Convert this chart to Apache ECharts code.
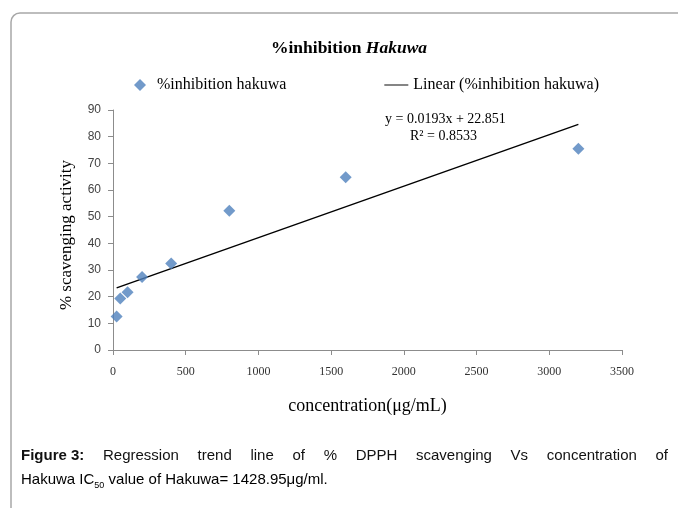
<!DOCTYPE html>
<html>
<head>
<meta charset="utf-8">
<script src="https://cdn.jsdelivr.net/npm/echarts@6/dist/echarts.min.js"></script>
<style>
html,body{margin:0;padding:0;background:#fff;}
#main{width:678px;height:508px;}
</style>
</head>
<body>
<div id="main"></div>
<script>
// Data
const concentration = [25, 50, 100, 200, 400, 800, 1600, 3200];
const inhibition = [12.6, 19.3, 21.7, 27.4, 32.4, 52.2, 64.8, 75.5];
// Trendline endpoints (y = 0.0193x + 22.851 at min and max x)
const trendX = [25, 3200];
const trendY = [23.3, 84.6];
const xTicks = [0, 500, 1000, 1500, 2000, 2500, 3000, 3500];
const yTicks = [0, 10, 20, 30, 40, 50, 60, 70, 80, 90];
const equationText = 'y = 0.0193x + 22.851';
const r2Text = 'R² = 0.8533';
const captionBold = 'Figure 3:';
const captionLine1 = 'Regression trend line of % DPPH scavenging Vs concentration of';
const captionLine2a = 'Hakuwa IC';
const captionSub = '50';
const captionLine2b = ' value of Hakuwa= 1428.95μg/ml.';

const serif = '"Liberation Serif", "Times New Roman", serif';
const sans = '"Liberation Sans", Arial, sans-serif';

// justified first caption line: place words individually
const capSize = 15;
const capLeft = 21, capRight = 668, capTop1 = 448, capTop2 = 470;
const mctx = document.createElement('canvas').getContext('2d');
const words = [{t: captionBold, bold: true}].concat(captionLine1.split(' ').map(t => ({t, bold: false})));
let total = 0;
words.forEach(w => {
  mctx.font = (w.bold ? 'bold ' : '') + capSize + 'px ' + sans;
  w.w = mctx.measureText(w.t).width; total += w.w;
});
const gap = (capRight - capLeft - total) / (words.length - 1);
const capGraphics = [];
let cx = capLeft;
words.forEach(w => {
  capGraphics.push({type: 'text', x: cx, y: capTop1,
    style: {text: w.t, font: (w.bold ? 'bold ' : '') + capSize + 'px ' + sans, fill: '#111'}});
  cx += w.w + gap;
});
capGraphics.push({type: 'text', x: capLeft, y: capTop2,
  style: {
    text: '{n|' + captionLine2a + '}{s|' + captionSub + '}{n|' + captionLine2b + '}',
    rich: {
      n: {fontFamily: sans, fontSize: capSize, color: '#111', lineHeight: 20},
      s: {fontFamily: sans, fontSize: 9, color: '#111', lineHeight: 20, padding: [11, 0, 0, 0]}
    }
  }});

const chart = echarts.init(document.getElementById('main'), null, {renderer: 'canvas'});
chart.setOption({
  animation: false,
  backgroundColor: '#fff',
  title: {
    text: '{a|%inhibition }{b|Hakuwa}',
    left: 344, top: 34, textAlign: 'center',
    textStyle: {
      rich: {
        a: {fontFamily: serif, fontWeight: 'bold', fontSize: 17.5, color: '#000'},
        b: {fontFamily: serif, fontWeight: 'bold', fontStyle: 'italic', fontSize: 17.5, color: '#000'}
      }
    }
  },
  legend: {
    top: 72, left: 129,
    itemGap: 98, itemWidth: 24, itemHeight: 12,
    symbolKeepAspect: true,
    textStyle: {fontFamily: serif, fontSize: 16, color: '#000'},
    data: [
      {name: '%inhibition hakuwa', icon: 'path://M5,0 L10,5 L5,10 L0,5 Z', itemStyle: {color: '#4F81BD'}},
      {name: 'Linear (%inhibition hakuwa)', icon: 'path://M0,0 L40,0 L40,1.6 L0,1.6 Z', itemStyle: {color: '#000'}}
    ]
  },
  grid: {left: 113, right: 56, top: 110, bottom: 158, containLabel: false},
  xAxis: {
    type: 'value', min: 0, max: 3500, interval: 500,
    name: 'concentration(μg/mL)', nameLocation: 'middle', nameGap: 47,
    nameTextStyle: {fontFamily: serif, fontSize: 18, color: '#000'},
    axisLine: {show: true, lineStyle: {color: '#8c8c8c', width: 1}},
    axisTick: {show: true, inside: false, length: 5, lineStyle: {color: '#8c8c8c'}},
    axisLabel: {fontFamily: serif, fontSize: 12, color: '#333', margin: 16,
      formatter: v => xTicks.includes(v) ? String(v) : ''},
    splitLine: {show: false}
  },
  yAxis: {
    type: 'value', min: 0, max: 90, interval: 10,
    name: '% scavenging activity', nameLocation: 'middle', nameGap: 38, nameRotate: 90,
    nameTextStyle: {fontFamily: serif, fontSize: 17, color: '#000', padding: [0, 10, 0, 0]},
    axisLine: {show: true, lineStyle: {color: '#8c8c8c', width: 1}},
    axisTick: {show: true, inside: false, length: 5, lineStyle: {color: '#8c8c8c'}},
    axisLabel: {fontFamily: sans, fontSize: 12, color: '#444', margin: 12,
      formatter: v => yTicks.includes(v) ? String(v) : ''},
    splitLine: {show: false}
  },
  series: [
    {
      name: '%inhibition hakuwa', type: 'scatter', symbol: 'diamond', symbolSize: 12,
      itemStyle: {color: '#4F81BD'},
      data: concentration.map((x, i) => [x, inhibition[i]]),
      z: 3
    },
    {
      name: 'Linear (%inhibition hakuwa)', type: 'line', showSymbol: false, symbol: 'none',
      lineStyle: {color: '#000', width: 1.4},
      itemStyle: {color: '#000'},
      data: trendX.map((x, i) => [x, trendY[i]]),
      z: 2
    }
  ],
  graphic: [
    {type: 'rect', shape: {x: 11, y: 13, width: 720, height: 540, r: 9},
      style: {fill: 'none', stroke: '#a8a8a8', lineWidth: 1.5}, silent: true},
    {type: 'text', left: 385, top: 112,
      style: {text: equationText, font: '14px ' + serif, fill: '#000'}},
    {type: 'text', left: 410, top: 129,
      style: {text: r2Text, font: '14px ' + serif, fill: '#000'}}
  ].concat(capGraphics)
});
</script>
</body>
</html>
